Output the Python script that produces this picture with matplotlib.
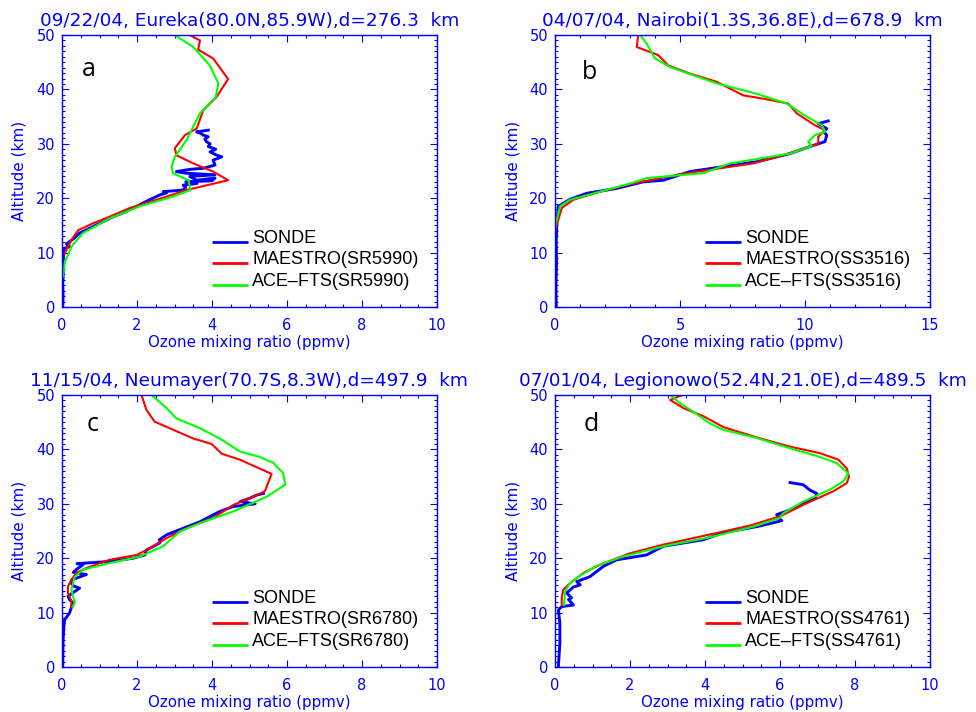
import matplotlib
matplotlib.use("Agg")
import matplotlib.pyplot as plt
from matplotlib.ticker import MultipleLocator

plt.rcParams['font.family'] = ['DejaVu Sans']

BLUE = '#0000ff'

titles = ["09/22/04, Eureka(80.0N,85.9W),d=276.3  km",
          "04/07/04, Nairobi(1.3S,36.8E),d=678.9  km",
          "11/15/04, Neumayer(70.7S,8.3W),d=497.9  km",
          "07/01/04, Legionowo(52.4N,21.0E),d=489.5  km"]
panel_letters = ["a", "b", "c", "d"]
orbits = ["SR5990", "SS3516", "SR6780", "SS4761"]
xmax = [10, 15, 10, 10]

# ---------------- Panel a : Eureka ----------------
a_sonde_x = [0.02, 0.03, 0.02, 0.04, 0.03, 0.05, 0.07, 0.2, 0.12, 0.3, 0.47, 0.6, 0.83, 1.1, 1.36, 1.7,
             1.99, 2.3, 2.61, 2.79, 2.7, 3.23, 3.3, 3.23, 3.6, 3.3, 4.0, 4.08, 3.59, 3.41, 4.08, 3.3, 3.05,
             3.41, 3.77, 4.08, 4.03, 4.26, 4.13, 3.95, 4.1, 3.90, 3.95, 3.85, 3.81, 3.9, 3.77, 3.7, 3.59, 3.90]
a_sonde_y = [0.0, 2.0, 4.4, 6.5, 8.7, 10.0, 10.8, 11.1, 11.6, 12.5, 13.6, 14.0, 14.8, 15.7, 16.6, 17.5,
             18.5, 19.6, 20.6, 21.0, 21.2, 21.5, 22.0, 22.4, 22.7, 23.0, 23.2, 23.7, 23.3, 24.0, 24.3, 24.6,
             24.9, 25.3, 25.5, 26.1, 27.0, 27.6, 27.9, 28.5, 29.0, 29.5, 30.0, 30.4, 30.9, 31.3, 31.6, 31.9,
             32.2, 32.5]
a_maestro_x = [0.07, 0.25, 0.43, 0.83, 1.27, 1.81, 2.52, 3.32, 4.43, 4.03, 3.50, 3.05, 3.01, 3.28, 3.59,
               3.77, 4.12, 4.43, 4.03, 3.63, 3.68, 3.41]
a_maestro_y = [9.8, 12.3, 14.1, 15.4, 16.6, 18.2, 19.7, 21.5, 23.3, 24.9, 26.4, 27.9, 29.2, 31.6, 32.8,
               36.2, 38.6, 41.9, 45.7, 47.3, 49.0, 50.0]
a_ace_x = [0.03, 0.07, 0.25, 0.56, 1.27, 2.07, 2.96, 3.43, 3.37, 2.96, 2.92, 3.01, 3.32, 3.68, 4.10,
           4.17, 3.94, 3.50, 3.01]
a_ace_y = [5.6, 8.1, 11.1, 13.6, 16.3, 18.5, 20.3, 21.5, 23.3, 24.6, 25.8, 27.6, 30.7, 35.6, 38.6,
           41.1, 44.4, 47.8, 50.0]

# ---------------- Panel b : Nairobi ----------------
b_sonde_x = [0.05, 0.04, 0.06, 0.05, 0.07, 0.13, 0.6, 1.27, 2.47, 3.53, 4.33, 5.4, 6.73, 8.07, 9.4,
             10.2, 10.8, 10.87, 10.75, 10.87, 10.53, 10.93]
b_sonde_y = [0.0, 4.0, 8.0, 12.0, 15.0, 18.5, 19.8, 20.9, 21.8, 23.0, 23.3, 24.9, 25.8, 26.7, 28.2,
             29.5, 30.4, 31.6, 32.2, 32.8, 33.7, 34.2]
b_maestro_x = [0.03, 0.13, 0.27, 0.73, 1.8, 3.13, 4.87, 6.6, 7.93, 9.13, 10.2, 10.53, 10.53, 10.8,
               10.4, 9.67, 9.33, 8.33, 7.53, 6.47, 5.4, 4.53, 4.13, 3.27, 3.33]
b_maestro_y = [14.5, 16.0, 18.2, 19.7, 21.2, 22.7, 24.3, 25.5, 26.4, 27.9, 29.5, 30.0, 31.3, 32.5,
               33.4, 35.6, 37.4, 38.3, 38.9, 41.4, 42.9, 44.4, 46.3, 47.8, 50.0]
b_ace_x = [0.0, 0.07, 0.2, 0.6, 1.8, 3.0, 3.67, 5.93, 6.47, 7.0, 9.4, 10.27, 10.13, 10.4, 10.8, 10.67,
           10.07, 9.27, 8.07, 6.47, 4.6, 4.0, 3.67, 3.4]
b_ace_y = [14.5, 16.0, 18.5, 19.7, 21.2, 22.7, 23.7, 24.6, 25.5, 26.4, 28.2, 29.6, 30.4, 31.6, 32.2,
           33.4, 35.0, 37.4, 39.2, 41.1, 44.1, 45.7, 48.4, 50.0]

# ---------------- Panel c : Neumayer ----------------
c_sonde_x = [0.02, 0.03, 0.05, 0.07, 0.2, 0.29, 0.2, 0.16, 0.47, 0.3, 0.25, 0.25, 0.65, 0.3, 0.38, 0.56,
             0.4, 1.27, 1.9, 2.21, 2.25, 2.61, 2.6, 2.79, 3.23, 3.68, 4.21, 4.57, 5.15, 4.75, 5.0, 5.19, 5.37]
c_sonde_y = [0.0, 5.0, 7.5, 8.7, 9.9, 11.8, 12.4, 13.0, 14.5, 14.9, 15.4, 16.0, 17.0, 17.4, 17.9, 18.8,
             19.0, 19.4, 20.0, 20.6, 21.5, 22.8, 23.4, 24.3, 25.5, 26.7, 28.6, 29.5, 30.0, 30.4, 31.0, 31.6, 31.9]
c_maestro_x = [0.25, 0.25, 0.16, 0.16, 0.25, 0.38, 0.65, 1.27, 1.99, 2.34, 2.79, 3.32, 4.03, 4.57, 5.1,
               5.41, 5.59, 5.1, 4.75, 4.26, 3.99, 3.5, 2.97, 2.47, 2.25, 2.12]
c_maestro_y = [11.1, 12.1, 13.6, 14.8, 16.0, 17.3, 18.2, 19.7, 20.6, 21.8, 23.7, 25.5, 27.4, 29.8, 31.3,
               32.3, 35.5, 37.0, 38.1, 39.2, 41.0, 42.0, 43.6, 45.1, 47.3, 50.0]
c_ace_x = [0.29, 0.34, 0.25, 0.34, 0.56, 1.27, 2.07, 2.7, 3.14, 3.77, 4.57, 5.46, 5.95, 5.9, 5.64, 5.28,
           4.75, 4.21, 3.68, 3.05, 2.79, 2.39]
c_ace_y = [11.1, 11.8, 14.2, 16.6, 17.9, 19.1, 20.3, 22.2, 24.9, 26.7, 28.6, 31.3, 33.5, 35.6, 37.5, 38.6,
           39.6, 42.0, 43.9, 45.7, 47.6, 50.0]

# ---------------- Panel d : Legionowo ----------------
d_sonde_x = [0.09, 0.13, 0.13, 0.09, 0.18, 0.49, 0.36, 0.44, 0.31, 0.49, 0.67, 0.58, 0.93, 1.29, 1.64,
             2.44, 2.89, 3.96, 4.49, 5.38, 6.05, 6.0, 5.91, 6.27, 6.62, 6.93, 6.98, 6.8, 6.62, 6.27]
d_sonde_y = [0.0, 4.4, 8.1, 10.5, 11.1, 11.4, 12.4, 12.7, 13.6, 14.7, 15.1, 15.7, 16.6, 18.5, 19.7,
             20.6, 22.2, 23.4, 24.7, 25.8, 26.9, 27.2, 28.0, 28.9, 30.1, 31.0, 31.9, 32.5, 33.5, 33.9]
d_maestro_x = [0.18, 0.18, 0.22, 0.4, 0.76, 1.2, 2.0, 2.89, 3.96, 5.2, 6.0, 6.71, 7.42, 7.78, 7.84, 7.78,
               7.56, 7.07, 6.27, 5.38, 4.49, 3.96, 3.42, 3.07, 3.4]
d_maestro_y = [11.4, 12.7, 14.2, 15.4, 17.3, 18.8, 20.9, 22.5, 24.1, 26.0, 27.7, 30.1, 32.3, 33.8, 35.0,
               36.5, 38.1, 39.3, 40.5, 42.2, 44.1, 46.1, 47.6, 49.1, 50.0]
d_ace_x = [0.24, 0.27, 0.4, 0.67, 1.11, 1.82, 2.89, 4.04, 5.29, 6.0, 6.09, 6.62, 7.33, 7.69, 7.82, 7.51,
           6.98, 6.27, 5.38, 4.49, 4.13, 3.69, 3.33, 3.07]
d_ace_y = [11.4, 13.9, 15.4, 16.8, 18.6, 20.3, 22.2, 23.7, 25.8, 27.4, 28.3, 30.4, 32.6, 34.1, 35.6, 37.5,
           38.8, 40.2, 42.1, 43.6, 44.8, 46.9, 48.5, 50.0]

sonde = [(a_sonde_x, a_sonde_y), (b_sonde_x, b_sonde_y), (c_sonde_x, c_sonde_y), (d_sonde_x, d_sonde_y)]
maestro = [(a_maestro_x, a_maestro_y), (b_maestro_x, b_maestro_y), (c_maestro_x, c_maestro_y),
           (d_maestro_x, d_maestro_y)]
ace = [(a_ace_x, a_ace_y), (b_ace_x, b_ace_y), (c_ace_x, c_ace_y), (d_ace_x, d_ace_y)]

fig = plt.figure(figsize=(9.76, 7.12), dpi=100)
W, H = 976.0, 712.0
boxes = [(62, 35), (555, 35), (62, 395), (555, 395)]
letter_pos = [(0.072, 0.851), (0.091, 0.838), (0.083, 0.868), (0.096, 0.868)]
ylabel_x = [19, 513, 19, 513]

for i in range(4):
    left, top = boxes[i]
    ax = fig.add_axes([left / W, 1 - (top + 272) / H, 375 / W, 272 / H])
    ax.plot(*sonde[i], color='#0000ff', lw=2.1)
    ax.plot(*maestro[i], color='#ff0000', lw=1.5)
    ax.plot(*ace[i], color='#00ff00', lw=1.5)
    ax.set_xlim(0, xmax[i])
    ax.set_ylim(0, 50)
    if xmax[i] == 15:
        ax.xaxis.set_major_locator(MultipleLocator(5))
        ax.xaxis.set_minor_locator(MultipleLocator(1))
    else:
        ax.xaxis.set_major_locator(MultipleLocator(2))
        ax.xaxis.set_minor_locator(MultipleLocator(0.5))
    ax.yaxis.set_major_locator(MultipleLocator(10))
    ax.yaxis.set_minor_locator(MultipleLocator(1))
    for s in ax.spines.values():
        s.set_color(BLUE)
        s.set_linewidth(1.0)
    ax.tick_params(which='both', direction='in', top=True, right=True, colors=BLUE,
                   labelsize=10.5, labelcolor=BLUE, width=0.8)
    ax.tick_params(which='major', length=5)
    ax.tick_params(which='minor', length=2.5)
    ax.tick_params(axis='x', pad=8)
    ax.tick_params(axis='y', pad=5)
    ax.set_xlabel("Ozone mixing ratio (ppmv)", color=BLUE, fontsize=10.8, labelpad=1)
    ax.text(0.5, 1.0 + 14 / 272, titles[i], transform=ax.transAxes, ha='center', va='center',
            color=BLUE, fontsize=13.3)
    fig.text(ylabel_x[i] / W, 1 - (top + 136) / H, "Altitude (km)", rotation=90, ha='center',
             va='center', color=BLUE, fontsize=11)
    ax.text(letter_pos[i][0], letter_pos[i][1], panel_letters[i], transform=ax.transAxes,
            ha='center', va='baseline', color='black', fontsize=18, family='Open Sans')
    # legend drawn IDL style
    labels = ["SONDE", "MAESTRO(%s)" % orbits[i], "ACE\u2013FTS(%s)" % orbits[i]]
    cols = ['#0000ff', '#ff0000', '#00ff00']
    for k, fy in enumerate([0.239, 0.162, 0.081]):
        ax.plot([0.40, 0.497], [fy, fy], transform=ax.transAxes, color=cols[k], lw=2.0,
                solid_capstyle='butt')
        ax.text(0.507, fy - 0.003, labels[k], transform=ax.transAxes, ha='left', va='baseline',
                color='black', fontsize=13, family='Liberation Sans')

fig.savefig("out.png", dpi=100)
